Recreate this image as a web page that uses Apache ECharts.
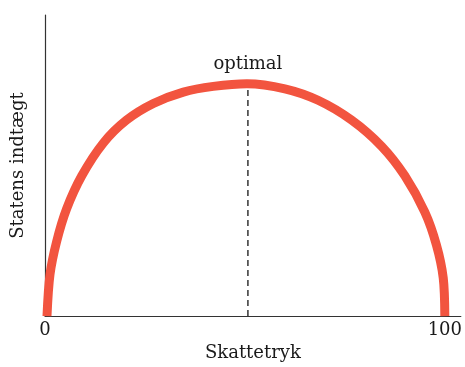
<!DOCTYPE html>
<html>
<head>
<meta charset="utf-8">
<script src="https://cdn.jsdelivr.net/npm/echarts@6/dist/echarts.min.js"></script>
<style>
  html, body { margin: 0; padding: 0; background: #fff; }
  #chart { width: 465px; height: 367px; }
</style>
</head>
<body>
<div id="chart"></div>
<script>
// Laffer curve: tax pressure (0-100) vs. state revenue
const taxRate = [0.5, 1.25, 2.9, 5.4, 9.2, 14.6, 20.4, 27.1, 34.6, 42.1, 50.5, 60, 68.3, 76.7, 84.2, 90, 95, 97.9, 99.6, 100];
const revenue = [0, 13.8, 24.7, 35.6, 46.6, 57.5, 65.1, 70.6, 74.4, 76.3, 77.2, 75.5, 71.7, 65.1, 56.4, 46.6, 34.5, 23.6, 12.7, 0];
const optimalX = 50.75;
const optimalY = 77.2;
const tickLabels = [0, 100];

const font = 'DejaVu Serif';

const curve = taxRate.map((x, i) => [x, revenue[i]]);

const myChart = echarts.init(document.getElementById('chart'));
myChart.setOption({
  animation: false,
  backgroundColor: '#ffffff',
  grid: { left: 45, right: 4, top: 15, bottom: 47 },
  xAxis: {
    type: 'value',
    min: 0,
    max: 104,
    interval: 100,
    name: 'Skattetryk',
    nameLocation: 'middle',
    nameGap: 24,
    nameTextStyle: { fontFamily: font, fontSize: 18, color: '#1a1a1a' },
    axisLine: { show: true, lineStyle: { color: '#333', width: 1.2 } },
    axisTick: { show: false },
    splitLine: { show: false },
    axisLabel: {
      margin: 5,
      fontFamily: font,
      fontSize: 18,
      color: '#1a1a1a',
      formatter: v => tickLabels.includes(v) ? String(v) : ''
    }
  },
  yAxis: {
    type: 'value',
    min: 0,
    max: 100,
    name: 'Statens indtægt',
    nameLocation: 'middle',
    nameGap: 18,
    nameTextStyle: { fontFamily: font, fontSize: 18, color: '#1a1a1a' },
    axisLine: { show: true, lineStyle: { color: '#333', width: 1.2 } },
    axisTick: { show: false },
    axisLabel: { show: false },
    splitLine: { show: false }
  },
  series: [
    {
      type: 'line',
      data: [[optimalX, 0], [optimalX, optimalY]],
      symbol: 'none',
      lineStyle: { color: '#333', width: 1.5, type: [6, 4] },
      z: 1
    },
    {
      type: 'line',
      data: curve,
      smooth: 0.32,
      symbol: 'none',
      lineStyle: { color: '#f2543f', width: 9, cap: 'butt' },
      z: 2
    },
    {
      type: 'scatter',
      data: [[optimalX, optimalY]],
      symbolSize: 0,
      itemStyle: { opacity: 1 },
      label: {
        show: true,
        position: 'top',
        distance: 10,
        formatter: 'optimal',
        fontFamily: font,
        fontSize: 18,
        color: '#1a1a1a',
        opacity: 1
      },
      z: 3
    }
  ]
});
</script>
</body>
</html>
